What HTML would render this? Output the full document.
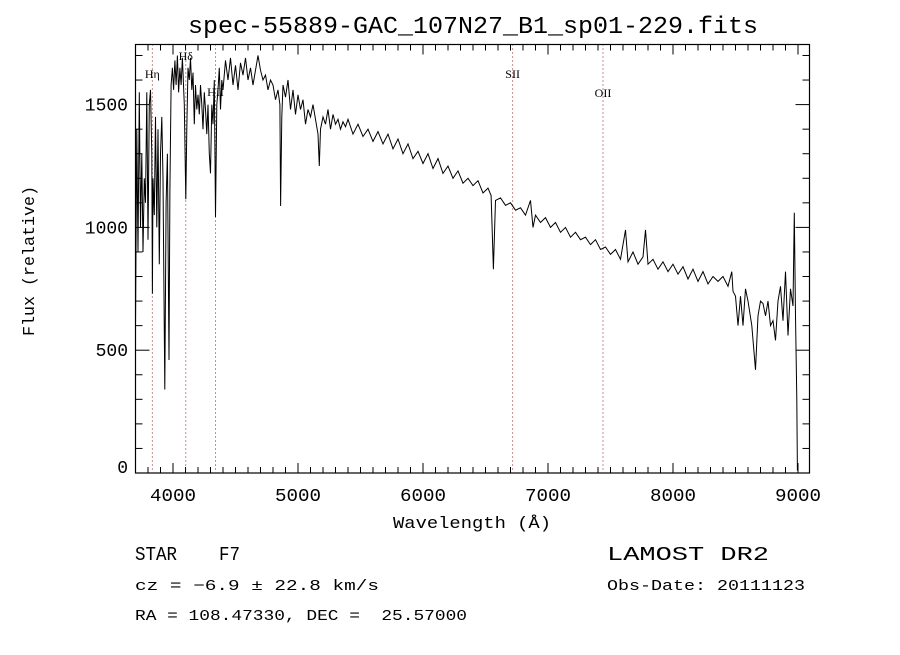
<!DOCTYPE html>
<html><head><meta charset="utf-8"><style>
body{margin:0;background:#fff;width:900px;height:650px;overflow:hidden}
svg text{fill:#000}
</style></head><body>
<svg id="chart" width="900" height="650" xmlns="http://www.w3.org/2000/svg" font-family="Liberation Sans, sans-serif">
<rect width="900" height="650" fill="#fff"/>
<text x="188" y="33" font-size="24" font-family="Liberation Mono, monospace" textLength="570" lengthAdjust="spacingAndGlyphs">spec-55889-GAC_107N27_B1_sp01-229.fits</text>
<g id="axes"></g>
<g id="lines"></g>
<path id="spec" fill="none" stroke="#000" stroke-width="1"/>
<rect x="135.5" y="44.5" width="674" height="428.5" fill="none" stroke="#000" stroke-width="1.2"/>
<text x="393" y="528" font-size="17" font-family="Liberation Mono, monospace" textLength="158" lengthAdjust="spacingAndGlyphs">Wavelength (Å)</text>
<text transform="translate(34,336) rotate(-90)" font-size="17" font-family="Liberation Mono, monospace" textLength="150" lengthAdjust="spacingAndGlyphs">Flux (relative)</text>
<text x="135" y="560" font-size="19" font-family="Liberation Mono, monospace" xml:space="preserve" textLength="105" lengthAdjust="spacingAndGlyphs">STAR    F7</text>
<text x="607" y="560" font-size="19" font-family="Liberation Mono, monospace" textLength="162" lengthAdjust="spacingAndGlyphs">LAMOST DR2</text>
<text x="135" y="590" font-size="15" font-family="Liberation Mono, monospace" textLength="244" lengthAdjust="spacingAndGlyphs">cz = −6.9 ± 22.8 km/s</text>
<text x="607" y="590" font-size="15" font-family="Liberation Mono, monospace" textLength="198" lengthAdjust="spacingAndGlyphs">Obs-Date: 20111123</text>
<text x="135" y="620" font-size="15" font-family="Liberation Mono, monospace" xml:space="preserve" textLength="332" lengthAdjust="spacingAndGlyphs">RA = 108.47330, DEC =  25.57000</text>
</svg>
<script>
const wavelengths=[3700,3710,3720,3730,3740,3750,3760,3770,3780,3790,3800,3810,3820,3830,3835,3840,3850,3860,3870,3880,3890,3900,3910,3920,3934,3945,3955,3968,3975,3985,3995,4005,4015,4025,4035,4045,4055,4065,4075,4090,4102,4110,4120,4130,4140,4150,4160,4170,4180,4190,4200,4210,4220,4230,4240,4250,4260,4270,4280,4290,4300,4310,4320,4330,4340,4350,4360,4370,4380,4390,4400,4420,4440,4460,4480,4500,4520,4540,4560,4580,4600,4620,4640,4660,4680,4700,4720,4740,4760,4780,4800,4820,4840,4855,4861,4870,4880,4900,4920,4940,4960,4980,5000,5020,5040,5060,5080,5100,5120,5140,5160,5170,5180,5200,5220,5240,5260,5280,5300,5320,5340,5360,5380,5400,5440,5480,5520,5560,5600,5640,5680,5720,5760,5800,5840,5880,5920,5960,6000,6040,6080,6120,6160,6200,6240,6280,6320,6360,6400,6440,6480,6520,6545,6563,6580,6620,6660,6700,6740,6780,6820,6860,6880,6900,6940,6980,7020,7060,7100,7140,7180,7220,7260,7300,7340,7380,7420,7460,7500,7540,7580,7620,7640,7680,7720,7760,7780,7800,7840,7880,7920,7960,8000,8040,8080,8120,8160,8200,8240,8280,8320,8360,8400,8440,8470,8480,8500,8520,8540,8560,8580,8600,8630,8660,8680,8700,8720,8740,8760,8780,8800,8820,8840,8860,8880,8900,8920,8940,8960,8970,8980,8990,8995];
const fluxes=[600,1400,900,1550,1000,1300,900,1200,1100,1550,950,1500,1560,1300,730,1200,1050,1450,1000,1400,850,1300,1450,1200,340,1100,1300,460,1150,1580,1650,1560,1680,1580,1700,1550,1650,1580,1690,1500,1115,1400,1650,1600,1690,1560,1630,1420,1580,1480,1540,1460,1580,1500,1400,1550,1480,1380,1500,1300,1220,1500,1420,1600,1042,1500,1560,1650,1480,1600,1560,1680,1600,1690,1580,1660,1560,1670,1620,1690,1600,1650,1580,1640,1700,1640,1600,1620,1560,1600,1580,1520,1560,1500,1087,1450,1580,1530,1600,1480,1560,1460,1540,1480,1520,1420,1480,1450,1500,1440,1380,1250,1400,1450,1420,1480,1400,1460,1420,1440,1400,1430,1410,1440,1380,1420,1370,1400,1350,1390,1340,1380,1320,1360,1300,1340,1280,1310,1260,1300,1240,1280,1220,1250,1200,1230,1180,1200,1170,1190,1140,1160,1130,830,1110,1120,1090,1100,1070,1080,1050,1110,1000,1050,1020,1040,1000,1020,980,1000,960,980,950,960,930,950,910,920,890,910,870,990,860,900,850,880,990,850,870,830,860,820,850,810,840,790,830,780,820,770,800,780,800,760,820,740,720,600,720,600,750,700,600,420,640,700,690,640,700,600,620,540,700,760,620,820,560,750,680,1060,640,300,10];
const xTickLabels=["4000","5000","6000","7000","8000","9000"];
const yTickLabels=["0","500","1000","1500"];
const lineWl=[3835,4102,4340,6717,7440];
const lineLabels=["Hη","Hδ","HII","SII","OII"];
const lineLabelY=[78,60,96,78,97];

const X0=135.5,X1=809.5,Y0=473,Y1=44.5;
const xs=w=>X0+(w-3700)*0.125;
const ys=f=>473-f*0.2456;
const NS="http://www.w3.org/2000/svg";
function mk(tag,attrs,parent){const e=document.createElementNS(NS,tag);for(const k in attrs)e.setAttribute(k,attrs[k]);parent.appendChild(e);return e;}
const ax=document.getElementById('axes');
for(let w=3700;w<=9000;w+=100){const major=w%1000===0;const x=xs(w);const L=major?10:6;
 const t1=mk('line',{x1:x,x2:x,y1:Y0,y2:Y0-L,stroke:'#000'},ax);
 
 
 const t2=mk('line',{x1:x,x2:x,y1:Y1,y2:Y1+L,stroke:'#000'},ax);
 
 }
xTickLabels.forEach(s=>{const t=mk('text',{x:xs(+s),y:501,'font-size':18,'font-family':'Liberation Mono, monospace','text-anchor':'middle',textLength:46,lengthAdjust:'spacingAndGlyphs'},ax);t.textContent=s;
 
 });
for(let f=0;f<=1700;f+=100){const major=f%500===0;const y=ys(f);const L=major?14:7;
 const t1=mk('line',{x1:X0,x2:X0+L,y1:y,y2:y,stroke:'#000'},ax);
 
 
 const t2=mk('line',{x1:X1,x2:X1-L,y1:y,y2:y,stroke:'#000'},ax);
 
 }
yTickLabels.forEach(s=>{const t=mk('text',{x:128,y:ys(+s)+(s==="0"?0:6),'font-size':18,'font-family':'Liberation Mono, monospace','text-anchor':'end'},ax);t.textContent=s;
 
 });
const lg=document.getElementById('lines');
lineWl.forEach((w,i)=>{const l=mk('line',{x1:xs(w),x2:xs(w),y1:Y1,y2:Y0,stroke:'#8b2020','stroke-dasharray':'1,3'},lg);
 
 
 const t=mk('text',{x:xs(w),y:lineLabelY[i],'font-size':12,'font-family':'Liberation Serif, serif','text-anchor':'middle'},lg);t.textContent=lineLabels[i];
 
 });
let d='';wavelengths.forEach((w,i)=>{d+=(i?'L':'M')+xs(w).toFixed(1)+','+ys(fluxes[i]).toFixed(1);});
document.getElementById('spec').setAttribute('d',d);
</script>
</body></html>
